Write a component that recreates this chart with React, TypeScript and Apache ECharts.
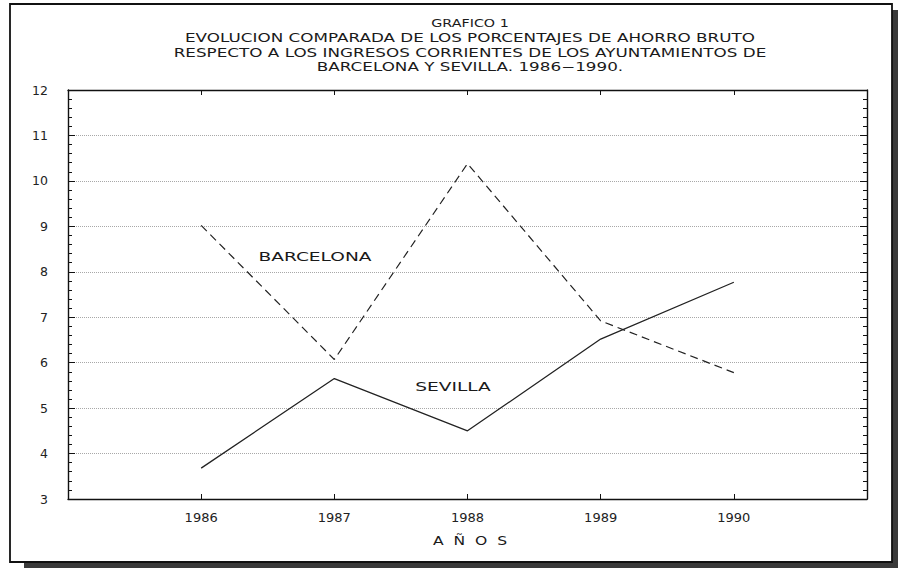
import React, { useEffect, useRef } from "react";
import * as echarts from "echarts";

const years = [1986, 1987, 1988, 1989, 1990];
const barcelona = [9.02, 6.07, 10.38, 6.92, 5.78];
const sevilla = [3.68, 5.65, 4.5, 6.52, 7.77];
const yTicks = [3, 4, 5, 6, 7, 8, 9, 10, 11, 12];
const titleLines = [
  "GRAFICO 1",
  "EVOLUCION COMPARADA DE LOS PORCENTAJES DE AHORRO BRUTO",
  "RESPECTO A LOS INGRESOS CORRIENTES DE LOS AYUNTAMIENTOS DE",
  "BARCELONA Y SEVILLA. 1986\u22121990.",
];
const xName = "A  Ñ  O  S";

const FONT = "DejaVu Sans";

export default function App() {
  const ref = useRef<HTMLDivElement>(null);
  useEffect(() => {
    if (!ref.current) return;
    const chart = echarts.init(ref.current, undefined, { renderer: "svg" });
    const axisLine = { show: true, lineStyle: { color: "#111", width: 1.4 } };
    const option: any = {
      animation: false,
      backgroundColor: "#ffffff",
      grid: { left: 68, right: 31, top: 90, bottom: 69 },
      xAxis: [
        {
          type: "value",
          min: 1985,
          max: 1991,
          interval: 1,
          position: "bottom",
          axisLine,
          axisTick: { show: true, inside: true, length: 5, lineStyle: { color: "#111" } },
          axisLabel: {
            color: "#222",
            fontFamily: FONT,
            fontSize: 13,
            margin: 12,
            formatter: (v: number) => (years.indexOf(v) >= 0 ? String(v) : ""),
          },
          splitLine: { show: false },
        },
        {
          type: "value",
          min: 1985,
          max: 1991,
          interval: 1,
          position: "top",
          axisLine,
          axisTick: { show: true, inside: true, length: 5, lineStyle: { color: "#111" } },
          axisLabel: { show: false },
          splitLine: { show: false },
        },
      ],
      yAxis: [
        {
          type: "value",
          min: yTicks[0],
          max: yTicks[yTicks.length - 1],
          interval: 1,
          position: "left",
          axisLine,
          axisTick: { show: true, inside: true, length: 7, lineStyle: { color: "#111" } },
          minorTick: { show: true, splitNumber: 5, length: 4, lineStyle: { color: "#111" } },
          axisLabel: { color: "#222", fontFamily: FONT, fontSize: 12.5, margin: 20 },
          splitLine: {
            show: true,
            lineStyle: { color: "#a8a8a8", type: [1, 1], width: 1 },
          },
        },
        {
          type: "value",
          min: yTicks[0],
          max: yTicks[yTicks.length - 1],
          interval: 1,
          position: "right",
          axisLine,
          axisTick: { show: true, inside: true, length: 7, lineStyle: { color: "#111" } },
          minorTick: { show: true, splitNumber: 5, length: 4, lineStyle: { color: "#111" } },
          axisLabel: { show: false },
          splitLine: { show: false },
        },
      ],
      series: [
        {
          name: "BARCELONA",
          type: "line",
          data: years.map((y, i) => [y, barcelona[i]]),
          showSymbol: false,
          symbol: "none",
          lineStyle: { color: "#222", width: 1.2, type: [8, 5] },
          z: 5,
        },
        {
          name: "SEVILLA",
          type: "line",
          data: years.map((y, i) => [y, sevilla[i]]),
          showSymbol: false,
          symbol: "none",
          lineStyle: { color: "#222", width: 1.3 },
          z: 5,
        },
      ],
      graphic: [
        { type: "rect", shape: { x: 24, y: 562, width: 874, height: 6 }, style: { fill: "#3a3a3a" }, z: 1 },
        { type: "rect", shape: { x: 892, y: 10, width: 6, height: 558 }, style: { fill: "#3a3a3a" }, z: 1 },
        {
          type: "rect",
          shape: { x: 10, y: 4, width: 882, height: 558 },
          style: { fill: "none", stroke: "#111", lineWidth: 1.8 },
          z: 2,
        },
        ...titleLines.map((t, i) => ({
          type: "text",
          x: 470,
          y: 23 + i * 14.5,
          scaleX: i === 0 ? 1.3 : 1.4,
          style: {
            text: t,
            fill: "#1a1a1a",
            font: `${i === 0 ? 11 : 12}px "${FONT}"`,
            textAlign: "center",
            textVerticalAlign: "middle",
          },
          z: 10,
        })),
        {
          type: "text",
          x: 470,
          y: 541,
          scaleX: 1.3,
          style: { text: xName, fill: "#1a1a1a", font: `12px "${FONT}"`, textAlign: "center", textVerticalAlign: "middle" },
          z: 10,
        },
        {
          type: "text",
          x: 315,
          y: 257,
          scaleX: 1.55,
          style: { text: "BARCELONA", fill: "#1a1a1a", font: `12px "${FONT}"`, textAlign: "center", textVerticalAlign: "middle" },
          z: 10,
        },
        {
          type: "text",
          x: 453,
          y: 387,
          scaleX: 1.55,
          style: { text: "SEVILLA", fill: "#1a1a1a", font: `12px "${FONT}"`, textAlign: "center", textVerticalAlign: "middle" },
          z: 10,
        },
      ],
    };
    chart.setOption(option);
    return () => chart.dispose();
  }, []);
  return (
    <div
      ref={ref}
      style={{ position: "fixed", left: 0, top: 0, width: 898, height: 568 }}
    />
  );
}
